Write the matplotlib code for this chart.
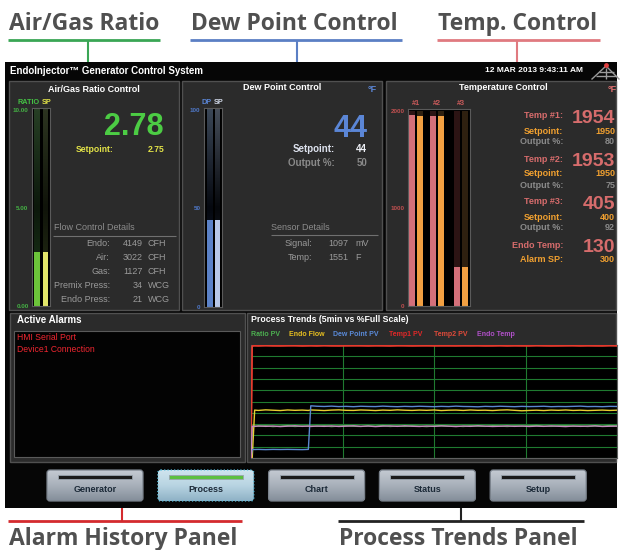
import numpy as np
import matplotlib.pyplot as plt
from matplotlib.patches import Rectangle, FancyBboxPatch
from matplotlib.colors import LinearSegmentedColormap

W, H = 622, 550
HMI_FONT = 'Liberation Sans'
NOTE_FONT = 'Open Sans'

# ---- panel values ----
RATIO_PV = 2.78
RATIO_SP = 2.75
RATIO_MAX = 10.0
RATIO_TICKS = [0, 5, 10]
RATIO_TICK_LABELS = ['0.00', '5.00', '10.00']
FLOW_LABELS = ['Endo:', 'Air:', 'Gas:', 'Premix Press:', 'Endo Press:']
FLOW_VALUES = [4149, 3022, 1127, 34, 21]
FLOW_UNITS = ['CFH', 'CFH', 'CFH', 'WCG', 'WCG']

DP_PV = 44
DP_SP = 44
DP_OUTPUT = 50
DP_MAX = 100
DP_TICKS = [0, 50, 100]
SENSOR_LABELS = ['Signal:', 'Temp:']
SENSOR_VALUES = [1097, 1551]
SENSOR_UNITS = ['mV', 'F']

TEMP_ZONES = ['#1', '#2', '#3']
TEMP_PV = [1954, 1953, 405]
TEMP_SP = [1950, 1950, 400]
TEMP_OUT = [80, 75, 92]
TEMP_MAX = 2000
TEMP_TICKS = [0, 1000, 2000]
ENDO_TEMP = 130
ALARM_SP = 300

ALARMS = ['HMI Serial Port', 'Device1 Connection']
BUTTONS = ['Generator', 'Process', 'Chart', 'Status', 'Setup']
ACTIVE_BUTTON = 'Process'

# ---- process trends (seconds, % of full scale) ----
TREND_T = [0, 1, 3, 6, 12, 18, 24, 30, 36, 42, 47, 49] + list(range(54, 301, 6))
TREND_RATIO = [0, 27.9, 28.3, 28.0, 28.5, 27.8, 28.2, 28.6, 27.9, 28.3, 28.1, 28.4,
               28.0, 28.5, 27.8, 28.3, 28.6, 28.1, 27.9, 28.4, 28.2, 28.7, 27.9, 28.3, 28.0, 28.5,
               28.2, 27.8, 28.4, 28.6, 28.1, 28.3, 27.9, 28.5, 28.2, 28.0, 28.6, 28.3, 27.9, 28.4,
               28.1, 28.5, 28.8, 28.2, 28.0, 28.4, 28.6, 28.1, 28.3, 27.9, 28.5, 28.2, 28.7, 28.4]
TREND_ENDO_FLOW = [0, 0, 42.4, 42.1, 42.6, 42.3, 42.0, 42.5, 42.2, 42.4, 42.1, 42.5,
                   42.3, 42.0, 42.4, 42.6, 42.2, 42.1, 42.5, 42.3, 42.0, 42.4, 42.2, 42.6, 42.3, 42.1,
                   42.4, 42.2, 42.5, 42.0, 42.3, 42.4, 42.1, 42.5, 42.2, 42.3, 42.0, 42.4, 42.6, 42.2,
                   41.8, 42.1, 42.3, 42.0, 42.4, 42.2, 42.5, 42.1, 42.3, 42.0, 42.2, 42.4, 42.1, 42.3]
TREND_DEW_POINT = [0, 7.6, 7.5, 7.6, 7.4, 7.6, 7.5, 7.6, 7.5, 7.4, 7.6, 46.2,
                   45.8, 45.6, 45.9, 45.5, 45.7, 45.4, 45.8, 45.6, 45.5, 45.9, 45.6, 45.4, 45.7, 45.5,
                   45.8, 45.6, 45.4, 45.7, 45.5, 45.9, 45.6, 45.5, 45.3, 45.7, 45.5, 45.8, 45.6, 45.4,
                   45.7, 45.5, 45.6, 45.8, 45.4, 45.6, 45.5, 45.7, 45.9, 45.5, 45.6, 45.4, 45.7, 45.6]
TREND_TEMP1 = [0, 99.3, 99.5, 99.4, 99.5, 99.3, 99.4, 99.5, 99.4, 99.3, 99.4, 99.5,
               99.4, 99.5, 99.3, 99.4, 99.4, 99.5, 99.3, 99.4, 99.5, 99.4, 99.3, 99.4, 99.5, 99.4,
               99.4, 99.3, 99.5, 99.4, 99.4, 99.5, 99.3, 99.4, 99.5, 99.4, 99.3, 99.4, 99.4, 99.5,
               99.3, 99.4, 99.5, 99.4, 99.4, 99.3, 99.5, 99.4, 99.4, 99.5, 99.3, 99.4, 99.5, 99.4]
TREND_TEMP2 = [0, 99.0, 99.2, 99.1, 99.3, 99.2, 99.1, 99.2, 99.3, 99.1, 99.2, 99.2,
               99.1, 99.3, 99.2, 99.1, 99.2, 99.2, 99.3, 99.1, 99.2, 99.2, 99.1, 99.3, 99.2, 99.1,
               99.2, 99.3, 99.1, 99.2, 99.2, 99.1, 99.3, 99.2, 99.2, 99.1, 99.2, 99.3, 99.1, 99.2,
               99.2, 99.1, 99.3, 99.2, 99.1, 99.2, 99.2, 99.3, 99.1, 99.2, 99.2, 99.1, 99.3, 99.2]
TREND_ENDO_TEMP = [0, 28.2, 27.9, 28.4, 28.0, 28.3, 27.8, 28.2, 28.5, 28.0, 28.3, 27.9,
                   28.3, 28.0, 28.4, 27.9, 28.2, 28.5, 28.0, 28.3, 27.8, 28.2, 28.4, 28.0, 28.5, 28.1,
                   27.9, 28.3, 28.0, 28.4, 28.2, 27.8, 28.3, 28.0, 28.5, 28.2, 27.9, 28.1, 28.4, 28.0,
                   28.3, 27.9, 28.2, 28.0, 28.4, 28.1, 27.8, 28.3, 28.0, 28.2, 28.4, 27.9, 28.1, 28.2]
TREND_NAMES = ['Ratio PV', 'Endo Flow', 'Dew Point PV', 'Temp1 PV', 'Temp2 PV', 'Endo Temp']
TREND_SERIES = [TREND_RATIO, TREND_ENDO_FLOW, TREND_DEW_POINT, TREND_TEMP1, TREND_TEMP2, TREND_ENDO_TEMP]
LEGEND_COLORS = ['#4caf50', '#e8c020', '#5a8ad8', '#e02828', '#e04a3a', '#b050c8']
LINE_COLORS = ['#4ca84c', '#e8d030', '#5a88d0', '#e02020', '#e84030', '#c888c0']

fig = plt.figure(figsize=(W / 100, H / 100), dpi=100)
ax = fig.add_axes([0, 0, 1, 1])
ax.set_xlim(0, W)
ax.set_ylim(H, 0)
ax.set_autoscale_on(False)
ax.axis('off')


def px_axes(x0, y0, x1, y1):
    return fig.add_axes([x0 / W, 1 - y1 / H, (x1 - x0) / W, (y1 - y0) / H])


def rect(x0, y0, x1, y1, fc, ec='none', lw=1.0, z=1):
    ax.add_patch(Rectangle((x0, y0), x1 - x0, y1 - y0, facecolor=fc,
                           edgecolor=ec, linewidth=lw, zorder=z))


def txt(x, y, s, size=6.5, color='white', ha='left', va='center', weight='bold',
        family=HMI_FONT, z=5):
    ax.text(x, y, s, fontsize=size, color=color, ha=ha, va=va,
            fontweight=weight, family=family, zorder=z)


def hline(x0, x1, y, color, lw=1.0, z=3):
    ax.plot([x0, x1], [y, y], color=color, lw=lw, zorder=z, solid_capstyle='butt')


def vline(x, y0, y1, color, lw=1.0, z=3):
    ax.plot([x, x], [y0, y1], color=color, lw=lw, zorder=z, solid_capstyle='butt')


def gradient(target, x0, x1, y_lo, y_hi, colors, z=1, clip=None):
    cmap = LinearSegmentedColormap.from_list('g', colors)
    g = np.linspace(0, 1, 64).reshape(-1, 1)
    im = target.imshow(g, cmap=cmap, extent=(x0, x1, y_lo, y_hi), aspect='auto',
                       origin='lower', zorder=z, interpolation='bilinear')
    if clip is not None:
        im.set_clip_path(clip)
    return im


# ---- callouts above / below the screen ----
NOTE_GRAY = '#505050'
for label, x0, x1, xv, col in [('Air/Gas Ratio', 8, 160, 88, '#3aa655'),
                               ('Dew Point Control', 190, 402, 297, '#5b7fc4'),
                               ('Temp. Control', 437, 600, 517, '#e07a80')]:
    txt(x0 + 1, 24, label, size=16.5, color=NOTE_GRAY, weight='bold', family=NOTE_FONT)
    hline(x0, x1, 40, col, lw=2)
    vline(xv, 40, 62, col, lw=1.5)

for label, x0, x1, xv, col in [('Alarm History Panel', 8, 242, 122, '#d42a2e'),
                               ('Process Trends Panel', 338, 584, 461, '#222222')]:
    txt(x0 + 1, 539, label, size=16.5, color=NOTE_GRAY, weight='bold', family=NOTE_FONT)
    hline(x0, x1, 521, col, lw=2)
    vline(xv, 508, 521, col, lw=1.5)

# ---- screen ----
rect(5, 62, 617, 508, '#060606', z=0.5)
txt(10, 71, 'EndoInjector\u2122 Generator Control System', size=7)
txt(583, 71, '12 MAR 2013 9:43:11 AM', size=6, ha='right')
# logo
ax.plot([592, 606, 619], [79, 66, 79], color='#9a9a9a', lw=1, zorder=3)
hline(599, 614, 72, '#9a9a9a', lw=1)
hline(596, 617, 76, '#9a9a9a', lw=1)
vline(606, 68, 79, '#9a9a9a', lw=1)
ax.scatter([606], [64.5], s=6, color='#e04040', zorder=4)

PANEL_FC = '#2b2b2b'
PANEL_EC = '#505050'
for x0, y0, x1, y1 in [(9, 81, 179, 310), (182, 81, 382, 310), (386, 81, 616, 310),
                       (10, 313, 245, 462), (247, 313, 616, 462)]:
    rect(x0, y0, x1, y1, PANEL_FC, PANEL_EC, lw=1, z=1)

# ---- Air/Gas ratio panel ----
GREEN = '#4ccc44'
YELLOW = '#e4e448'
GRAY_TXT = '#9a9a9a'
txt(94, 89, 'Air/Gas Ratio Control', ha='center')
txt(17, 102, 'RATIO', size=5.2, color='#44c044')
txt(42, 102, 'SP', size=5.2, color=YELLOW)

rax = px_axes(32, 108, 50, 306)
rax.set_facecolor('black')
rax.set_xlim(0, 18)
rax.set_ylim(0, RATIO_MAX * 1.01)
rax.set_xticks([])
rax.set_yticks(RATIO_TICKS)
rax.set_yticklabels(RATIO_TICK_LABELS, fontsize=4.5, color='#44b044',
                    fontweight='bold', family=HMI_FONT)
rax.tick_params(axis='y', length=0, pad=2.5)
for sp in rax.spines.values():
    sp.set_color('#5a5a5a')
    sp.set_linewidth(0.8)
for xc, w, cols in [(5, 6, ['#1e3c1c', '#0c180b', '#263e24']),
                    (13.5, 5, ['#2a3418', '#10140a', '#2c3420'])]:
    gradient(rax, xc - w / 2, xc + w / 2, 0, RATIO_MAX, cols, z=1)
rax.bar([5, 13.5], [RATIO_PV, RATIO_SP], width=[6, 5], color=['#6cc43a', '#e2e66a'],
        align='center', zorder=2)

txt(164, 135, f'{RATIO_PV:.2f}', size=22, color=GREEN, ha='right', va='baseline')
txt(76, 149, 'Setpoint:', size=6.2, color=YELLOW)
txt(164, 149, f'{RATIO_SP:.2f}', size=6.2, color=YELLOW, ha='right')

txt(54, 228, 'Flow Control Details', color='#8c8c8c', weight='normal')
hline(53, 176, 236, '#707070', lw=0.8)
for i, (lab, val, unit) in enumerate(zip(FLOW_LABELS, FLOW_VALUES, FLOW_UNITS)):
    y = 244 + i * 14
    txt(110, y, lab, color=GRAY_TXT, ha='right', weight='normal')
    txt(143, y, str(val), color=GRAY_TXT, ha='right', weight='normal')
    txt(148, y, unit, color=GRAY_TXT, weight='normal')

# ---- Dew point panel ----
BLUE = '#5b86d6'
txt(282, 88, 'Dew Point Control', ha='center')
txt(372, 90, '\u00b0F', color=BLUE, ha='center')
txt(202, 103, 'DP', size=5.2, color=BLUE)
txt(214, 103, 'SP', size=5.2, color='#d0d8e8')

dax = px_axes(204, 108, 222, 307)
dax.set_facecolor('black')
dax.set_xlim(0, 18)
dax.set_ylim(0, DP_MAX * 1.01)
dax.set_xticks([])
dax.set_yticks(DP_TICKS)
dax.set_yticklabels([str(t) for t in DP_TICKS], fontsize=4.5, color='#4f78c8',
                    fontweight='bold', family=HMI_FONT)
dax.tick_params(axis='y', length=0, pad=2.5)
for sp in dax.spines.values():
    sp.set_color('#5a5a5a')
    sp.set_linewidth(0.8)
for xc, w, cols in [(5.5, 6, ['#1c2c4c', '#05080f', '#3a4656']),
                    (13.2, 5, ['#2a3348', '#06080c', '#444c58'])]:
    gradient(dax, xc - w / 2, xc + w / 2, 0, DP_MAX, cols, z=1)
dax.bar([5.5, 13.2], [DP_PV, DP_SP], width=[6, 5], color=['#5b82c8', '#b8c8e8'], zorder=2)

txt(367, 137, str(DP_PV), size=22, color=BLUE, ha='right', va='baseline')
txt(335, 149, 'Setpoint:', size=7, color='#dde2ee', ha='right')
txt(367, 149, str(DP_SP), size=7, color='#eef0f6', ha='right')
txt(335, 163, 'Output %:', size=7, color='#8a8a8a', ha='right')
txt(367, 163, str(DP_OUTPUT), size=7, color='#8a8a8a', ha='right')

txt(271, 228, 'Sensor Details', color='#8c8c8c', weight='normal')
hline(271, 378, 235, '#707070', lw=0.8)
for i, (lab, val, unit) in enumerate(zip(SENSOR_LABELS, SENSOR_VALUES, SENSOR_UNITS)):
    y = 244 + i * 14
    txt(312, y, lab, color=GRAY_TXT, ha='right', weight='normal')
    txt(348, y, str(val), color=GRAY_TXT, ha='right', weight='normal')
    txt(355, y, unit, color=GRAY_TXT, weight='normal')

# ---- Temperature panel ----
SALMON = '#d66c6c'
ORANGE = '#f0a030'
txt(503, 88, 'Temperature Control', ha='center')
txt(612, 90, '\u00b0F', color='#e07070', ha='center')

tax = px_axes(408, 109, 470, 306)
tax.set_facecolor('black')
tax.set_xlim(0, 62)
tax.set_ylim(0, TEMP_MAX * 1.01)
group_x = [8, 28.5, 52.5]
tax.set_xticks(group_x)
tax.set_xticklabels(TEMP_ZONES, fontsize=5.2, color='#c85a5a', fontweight='bold', family=HMI_FONT)
tax.xaxis.tick_top()
tax.tick_params(axis='x', length=0, pad=1.5)
tax.set_yticks(TEMP_TICKS)
tax.set_yticklabels([str(t) for t in TEMP_TICKS], fontsize=4.5, color='#c05050',
                    fontweight='bold', family=HMI_FONT)
tax.tick_params(axis='y', length=0, pad=2.5)
for sp in tax.spines.values():
    sp.set_color('#5a5a5a')
    sp.set_linewidth(0.8)
pv_x = [g - 4 for g in group_x]
sp_x = [g + 4 for g in group_x]
tax.bar(pv_x, [TEMP_MAX] * 3, width=6, color='#2c1414', zorder=1)
tax.bar(sp_x, [TEMP_MAX] * 3, width=6, color='#2e2010', zorder=1)
tax.bar(pv_x, TEMP_PV, width=6, color='#d4707a', zorder=2)
tax.bar(sp_x, TEMP_SP, width=6, color='#f2a042', zorder=2)

row_y = [116, 159, 202]
big_base = [123, 166, 209]
for i in range(3):
    y = row_y[i]
    txt(563, y, f'Temp #{i + 1}:', color=SALMON, ha='right')
    txt(615, big_base[i], str(TEMP_PV[i]), size=14, color=SALMON, ha='right', va='baseline')
    txt(563, y + 15, 'Setpoint:', color=ORANGE, ha='right')
    txt(615, y + 15, str(TEMP_SP[i]), color=ORANGE, ha='right')
    txt(563, y + 26, 'Output %:', color='#8a8a8a', ha='right')
    txt(615, y + 26, str(TEMP_OUT[i]), color='#8a8a8a', ha='right')
txt(563, 245, 'Endo Temp:', color=SALMON, ha='right')
txt(615, 252, str(ENDO_TEMP), size=14, color=SALMON, ha='right', va='baseline')
txt(563, 260, 'Alarm SP:', color=ORANGE, ha='right')
txt(615, 260, str(ALARM_SP), color=ORANGE, ha='right')

# ---- Active alarms ----
txt(17, 320, 'Active Alarms', size=7)
rect(14, 331, 240, 457, '#030303', '#5a5a5a', lw=0.8, z=2)
for i, a in enumerate(ALARMS):
    txt(17, 338 + i * 11, a, size=6.2, color='#f02630', weight='normal')

# ---- Process trends ----
txt(251, 320, 'Process Trends (5min vs %Full Scale)', size=6.3)
for name, col, x in zip(TREND_NAMES, LEGEND_COLORS, [251, 289, 333, 389, 434, 477]):
    txt(x, 334, name, size=5, color=col)

pax = px_axes(251, 345, 617, 458)
pax.set_facecolor('black')
pax.set_xlim(0, 300)
pax.set_ylim(0, 100)
pax.set_xticks([0, 75, 150, 225, 300])
pax.set_yticks(range(0, 101, 10))
pax.grid(True, color='#1f7a30', lw=0.8)
pax.set_axisbelow(True)
pax.tick_params(length=0, labelbottom=False, labelleft=False)
for sp in pax.spines.values():
    sp.set_color('#606060')
    sp.set_linewidth(0.8)
for vals, col in zip(TREND_SERIES, LINE_COLORS):
    pax.plot(TREND_T, vals, color=col, lw=1.0, zorder=3)

# ---- navigation buttons ----
for i, name in enumerate(BUTTONS):
    x0 = 47 + i * 110.8
    x1 = x0 + 96
    y0, y1 = 470, 501
    active = name == ACTIVE_BUTTON
    box = FancyBboxPatch((x0, y0), x1 - x0, y1 - y0, boxstyle='round,pad=0,rounding_size=3',
                         facecolor='none', edgecolor='#58c0e0' if active else '#7a828c',
                         linewidth=0.9, linestyle=':' if active else '-', zorder=4)
    ax.add_patch(box)
    cols = ['#8fb2c6', '#b8d4e2', '#cfe4ee'] if active else ['#848e9a', '#a8b0ba', '#c4cad2']
    gradient(ax, x0, x1, y1, y0, cols, z=3, clip=box)
    rect(x0 + 11, 475, x1 - 11, 478.5, '#5cc040' if active else '#1a1a1a',
         '#9aa4ae', lw=0.6, z=5)
    txt((x0 + x1) / 2, 489, name, size=6.5, color='#1c2a38', ha='center', z=6)

fig.savefig('out.png', dpi=100, facecolor='white')
